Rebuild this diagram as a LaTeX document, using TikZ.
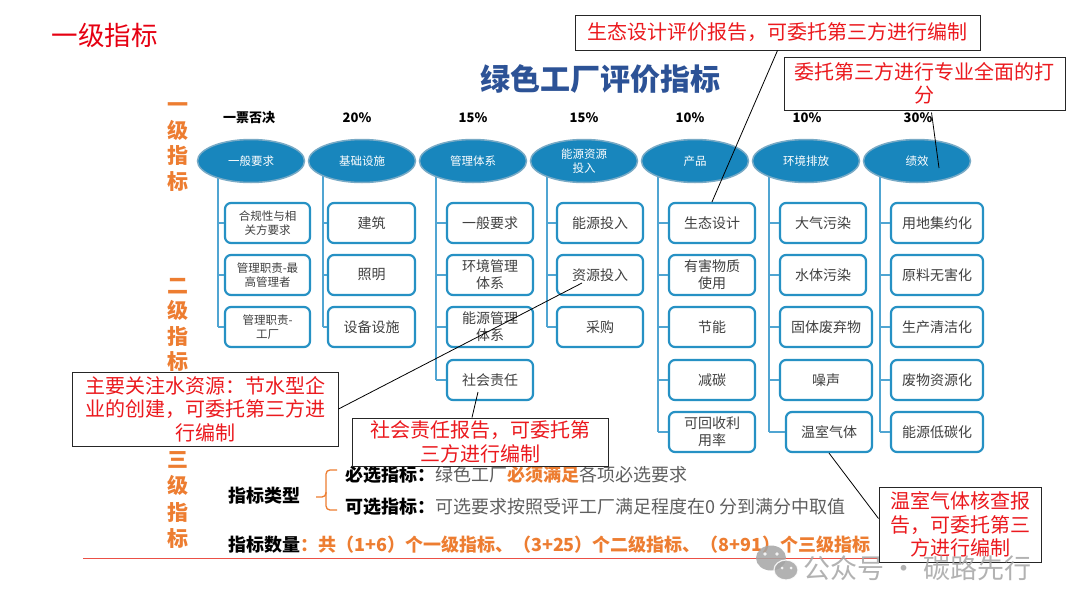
\documentclass[tikz,border=0pt]{standalone}
\usepackage{fontspec}
\setmainfont{Noto Sans CJK SC}
\usetikzlibrary{shapes.geometric,calc}
\definecolor{ellblue}{RGB}{24,134,189}
\definecolor{ellrim}{RGB}{120,170,198}
\definecolor{boxblue}{RGB}{38,145,196}
\definecolor{trunkblue}{RGB}{80,165,210}
\definecolor{titleblue}{RGB}{44,82,150}
\definecolor{orng}{RGB}{237,125,49}
\definecolor{calred}{RGB}{235,25,30}
\definecolor{txtgray}{RGB}{64,64,64}
\definecolor{midgray}{RGB}{95,95,95}
\definecolor{wmgray}{RGB}{165,165,165}
\definecolor{titlered}{RGB}{230,0,18}
\newcommand\myfs[2]{\fontsize{#1}{#2}\selectfont}
\tikzset{
  ell/.style={ellipse, fill=ellblue, draw=ellrim, line width=1.5pt, minimum width=107, minimum height=43, inner sep=0, text=white, font={\myfs{11.5}{13.5}}, align=center},
  ibox/.style={draw=boxblue, line width=2.2pt, rounded corners=6pt, fill=white, minimum height=40, minimum width=86, inner sep=0, text=txtgray, align=center, font={\myfs{14}{17}}},
  sbox/.style={ibox, font={\myfs{11.5}{14.5}}},
  trunk/.style={draw=trunkblue, line width=1.3pt},
  pct/.style={font={\bfseries\myfs{13}{15}}, text=black},
  vlab/.style={text=orng, font={\bfseries\myfs{21}{25.5}}, align=center},
  callout/.style={draw=black!85, line width=1pt, fill=white, text=calred, font={\myfs{20}{23.5}}, align=center, inner sep=0},
  cline/.style={draw=black, line width=0.8pt},
}
\begin{document}
\begin{tikzpicture}[x=1pt,y=-1pt]
\useasboundingbox (0,0) rectangle (1080,608);
\fill[white] (0,0) rectangle (1080,608);

% titles
\node[text=titlered, font={\myfs{26.5}{30}}, anchor=west] (maintitle) at (48,35) {一级指标};
\node[text=titleblue, font={\bfseries\myfs{30}{36}}] (charttitle) at (600,79) {绿色工厂评价指标};

% vertical labels
\node[vlab] (v1) at (178,147) {一\\级\\指\\标};
\node[vlab] (v2) at (178,325) {二\\级\\指\\标};
\node[vlab, font={\bfseries\myfs{21}{26.5}}] (v3) at (178,500) {三\\级\\指\\标};

% percentages
\node[pct] (p1) at (249,118) {一票否决};
\node[pct] (p2) at (357,118) {20\%};
\node[pct] (p3) at (473,118) {15\%};
\node[pct] (p4) at (584,118) {15\%};
\node[pct] (p5) at (690,118) {10\%};
\node[pct] (p6) at (807,118) {10\%};
\node[pct] (p7) at (918,118) {30\%};

% trunk x coordinates
\coordinate (t1) at (218,0);
\coordinate (t2) at (323,0);
\coordinate (t3) at (436,0);
\coordinate (t4) at (547,0);
\coordinate (t5) at (658,0);
\coordinate (t6) at (769,0);
\coordinate (t7) at (880,0);

% ellipse centres
\coordinate (ec1) at (251,161);
\coordinate (ec2) at (362,161);
\coordinate (ec3) at (473,161);
\coordinate (ec4) at (584,161);
\coordinate (ec5) at (695,161);
\coordinate (ec6) at (806,161);
\coordinate (ec7) at (917,161);

% second level boxes
\node[sbox, minimum width=85] (r11) at (267.5,223) {合规性与相\\关方要求};
\node[sbox, minimum width=85] (r12) at (267.5,275) {管理职责-最\\高管理者};
\node[sbox, minimum width=85] (r13) at (267.5,327) {管理职责-\\工厂};

\node[ibox, minimum width=87] (r21) at (371.5,223) {建筑};
\node[ibox, minimum width=87] (r22) at (371.5,275) {照明};
\node[ibox, minimum width=87] (r23) at (371.5,327) {设备设施};

\node[ibox] (r31) at (490,223) {一般要求};
\node[ibox] (r32) at (490,275) {环境管理\\体系};
\node[ibox] (r33) at (490,327) {能源管理\\体系};
\node[ibox] (r34) at (490,380) {社会责任};

\node[ibox] (r41) at (600,223) {能源投入};
\node[ibox] (r42) at (600,275) {资源投入};
\node[ibox] (r43) at (600,327) {采购};

\node[ibox] (r51) at (712,223) {生态设计};
\node[ibox] (r52) at (712,275) {有害物质\\使用};
\node[ibox] (r53) at (712,327) {节能};
\node[ibox] (r54) at (712,380) {减碳};
\node[ibox] (r55) at (712,432) {可回收利\\用率};

\node[ibox] (r61) at (823,223) {大气污染};
\node[ibox] (r62) at (823,275) {水体污染};
\node[ibox, minimum width=92] (r63) at (826,327) {固体废弃物};
\node[ibox, minimum width=92] (r64) at (826,380) {噪声};
\node[ibox] (r65) at (829,432) {温室气体};

\node[ibox, minimum width=92] (r71) at (937,223) {用地集约化};
\node[ibox, minimum width=92] (r72) at (937,275) {原料无害化};
\node[ibox, minimum width=92] (r73) at (937,327) {生产清洁化};
\node[ibox, minimum width=92] (r74) at (937,380) {废物资源化};
\node[ibox, minimum width=92] (r75) at (937,432) {能源低碳化};

% trunks and branches
\draw[trunk] (ec1 -| t1) -- (r13.west -| t1);
\foreach \r in {r11,r12,r13} \draw[trunk] (\r.west -| t1) -- (\r.west);
\draw[trunk] (ec2 -| t2) -- (r23.west -| t2);
\foreach \r in {r21,r22,r23} \draw[trunk] (\r.west -| t2) -- (\r.west);
\draw[trunk] (ec3 -| t3) -- (r34.west -| t3);
\foreach \r in {r31,r32,r33,r34} \draw[trunk] (\r.west -| t3) -- (\r.west);
\draw[trunk] (ec4 -| t4) -- (r43.west -| t4);
\foreach \r in {r41,r42,r43} \draw[trunk] (\r.west -| t4) -- (\r.west);
\draw[trunk] (ec5 -| t5) -- (r55.west -| t5);
\foreach \r in {r51,r52,r53,r54,r55} \draw[trunk] (\r.west -| t5) -- (\r.west);
\draw[trunk] (ec6 -| t6) -- (r65.west -| t6);
\foreach \r in {r61,r62,r63,r64,r65} \draw[trunk] (\r.west -| t6) -- (\r.west);
\draw[trunk] (ec7 -| t7) -- (r75.west -| t7);
\foreach \r in {r71,r72,r73,r74,r75} \draw[trunk] (\r.west -| t7) -- (\r.west);

% first level ellipses
\node[ell] (e1) at (ec1) {一般要求};
\node[ell] (e2) at (ec2) {基础设施};
\node[ell] (e3) at (ec3) {管理体系};
\node[ell] (e4) at (ec4) {能源资源\\投入};
\node[ell] (e5) at (ec5) {产品};
\node[ell] (e6) at (ec6) {环境排放};
\node[ell] (e7) at (ec7) {绩效};

% bottom texts
\node[anchor=center, font={\bfseries\myfs{18}{21}}, text=black] (ktype) at (264,496) {指标类型};
\coordinate (brtop) at (337,470);
\coordinate (brbot) at (337,510);
\draw[orng, line width=1.3pt, rounded corners=4pt] (brtop) -- (326,470) -- (326,497) -- (316,497);
\draw[orng, line width=1.3pt, rounded corners=4pt] (326,492) -- (326,510) -- (brbot);
\node[anchor=west, inner sep=0, font={\myfs{18}{21}}, text=midgray] (must) at (345,475)
  {\textbf{\color{black}必选指标：}绿色工厂{\bfseries\color{orng}必须满足}各项必选要求};
\node[anchor=west, inner sep=0, font={\myfs{18}{21}}, text=midgray] (opt) at (345,507)
  {\textbf{\color{black}可选指标：}可选要求按照受评工厂满足程度在0 分到满分中取值};
\node[anchor=west, inner sep=0, font={\bfseries\myfs{18}{21}}, text=orng] (count) at (228,545)
  {{\color{black}指标数量}：共（1+6）个一级指标、（3+25）个二级指标、（8+91）个三级指标};
\coordinate (rl1) at (83,558);
\coordinate (rl2) at (878,558);
\draw[draw={rgb,255:red,235;green,80;blue,70}, line width=1pt] (rl1) -- (rl2);

% callouts
\node[callout, minimum width=405, minimum height=35] (cA) at (777.5,32.5) {生态设计评价报告，可委托第三方进行编制};
\node[callout, minimum width=281, minimum height=53] (cB) at (924.5,83.5) {委托第三方进行专业全面的打\\分};
\node[callout, minimum width=266, minimum height=74] (cC) at (205,409) {主要关注水资源：节水型企\\业的创建，可委托第三方进\\行编制};
\node[callout, minimum width=256, minimum height=48] (cD) at (480,442) {社会责任报告，可委托第\\三方进行编制};
\node[callout, minimum width=162, minimum height=75] (cE) at (960,524.5) {温室气体核查报\\告，可委托第三\\方进行编制};

\draw[cline] (cA.south) -- (r51.north);
\draw[cline] ($(cB.south)+(7,2)$) -- ($(e7.center)+(22,7)$);
\draw[cline] (cC.east) -- ($(r42.center)+(-18,8)$);
\draw[cline] ($(r34.center)+(-12,12)$) -- ($(cD.north)+(-8,0)$);
\draw[cline] (r65.south) -- ($(cE.west)+(0,-6)$);

% watermark
\begin{scope}[opacity=0.85]
\fill[wmgray] (771,558) ellipse (15 and 12.5);
\fill[wmgray, draw=white, line width=1.2pt] (786,570) ellipse (12 and 10);
\fill[white] (765,554) circle (1.8) (777,554) circle (1.8) (782,568) circle (1.5) (791,568) circle (1.5);
\node[anchor=west, inner sep=0, text=wmgray, font={\myfs{27}{30}}] (wm) at (803,568) {公众号 · 碳路先行};
\end{scope}
\end{tikzpicture}
\end{document}
